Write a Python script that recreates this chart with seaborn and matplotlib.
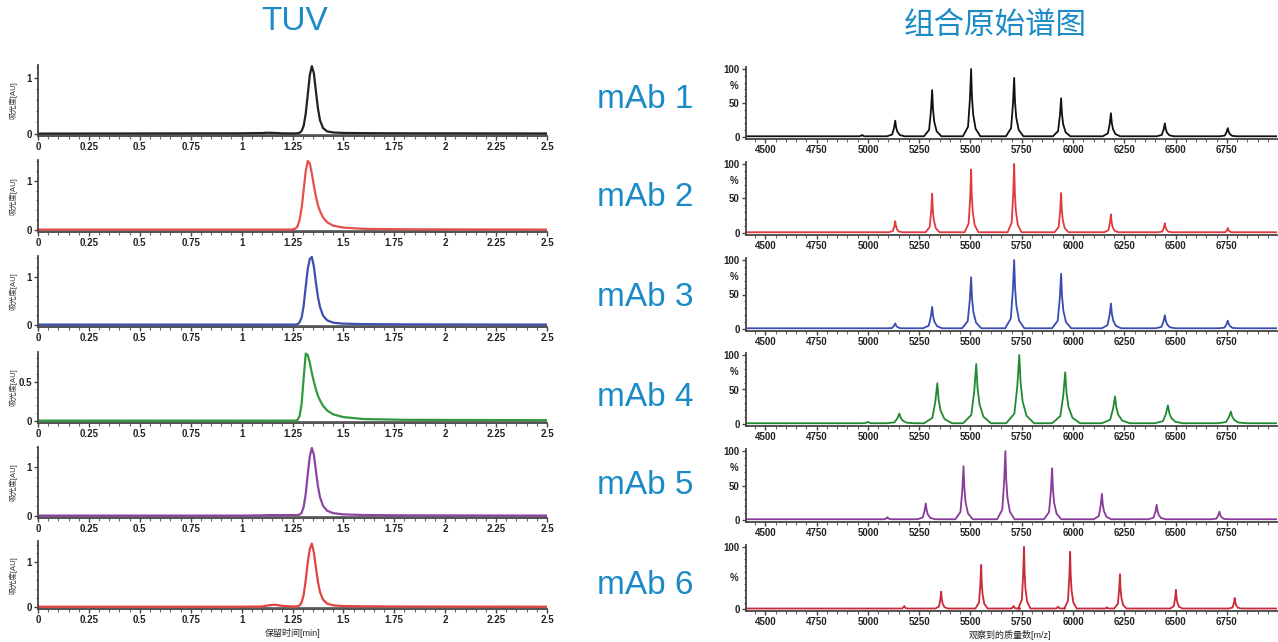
import matplotlib
matplotlib.use("Agg")
import matplotlib.pyplot as plt
import matplotlib.transforms as mtransforms
from matplotlib.ticker import MultipleLocator
import seaborn as sns
import pandas as pd

sns.set_style("ticks")
plt.rcParams['font.family'] = ['Liberation Sans', 'Noto Sans CJK SC', 'DejaVu Sans']

samples = ["mAb 1", "mAb 2", "mAb 3", "mAb 4", "mAb 5", "mAb 6"]
tuv_colors = ["#222222", "#e5504c", "#3f4fae", "#2f9a3f", "#8d46a0", "#e0443f"]
ms_colors = ["#111111", "#e03a3e", "#3a4cb0", "#1f8a30", "#8a3a9a", "#c92a3a"]

# TUV traces: retention time [min] and absorbance [AU]
rt = [0, 1.0, 1.10, 1.13, 1.16, 1.20, 1.245, 1.265, 1.275, 1.285, 1.295, 1.305,
      1.315, 1.325, 1.335, 1.345, 1.355, 1.365, 1.375, 1.385, 1.40, 1.42, 1.45,
      1.50, 1.60, 1.80, 2.5]
tuv_mab1 = [0, 0.005, 0.01, 0.015, 0.012, 0.005, 0.003, 0.004, 0.006, 0.015, 0.05, 0.14,
            0.36, 0.70, 1.05, 1.21, 1.08, 0.76, 0.45, 0.24, 0.10, 0.04, 0.02,
            0.012, 0.008, 0.005, 0.002]
tuv_mab2 = [0, 0, 0, 0, 0, 0, 0, 0.02, 0.07, 0.2, 0.45, 0.82,
            1.2, 1.41, 1.36, 1.15, 0.9, 0.68, 0.5, 0.38, 0.25, 0.15, 0.08,
            0.04, 0.015, 0.005, 0]
tuv_mab3 = [0, 0, 0, 0, 0, 0, 0, 0, 0.01, 0.05, 0.15, 0.4,
            0.8, 1.17, 1.38, 1.42, 1.22, 0.88, 0.58, 0.37, 0.19, 0.09, 0.04,
            0.02, 0.01, 0.005, 0]
tuv_mab4 = [0, 0, 0, 0, 0, 0, 0, 0, 0.01, 0.06, 0.22, 0.55,
            0.86, 0.84, 0.74, 0.61, 0.5, 0.4, 0.32, 0.26, 0.19, 0.13, 0.08,
            0.045, 0.02, 0.01, 0.005]
tuv_mab5 = [0, 0, 0.005, 0.01, 0.01, 0.01, 0.01, 0.01, 0.012, 0.02, 0.06, 0.18,
            0.45, 0.85, 1.22, 1.39, 1.25, 0.92, 0.6, 0.38, 0.2, 0.1, 0.05,
            0.025, 0.012, 0.005, 0]
tuv_mab6 = [0, 0, 0.005, 0.03, 0.045, 0.02, 0.005, 0.005, 0.01, 0.03, 0.1, 0.27,
            0.6, 1.0, 1.3, 1.42, 1.22, 0.88, 0.56, 0.33, 0.16, 0.07, 0.03,
            0.015, 0.008, 0.004, 0]
tuv_traces = [tuv_mab1, tuv_mab2, tuv_mab3, tuv_mab4, tuv_mab5, tuv_mab6]
tuv_ylim_top = [1.23, 1.43, 1.44, 0.88, 1.41, 1.48]
tuv_yticks = [[0, 1], [0, 1], [0, 1], [0, 0.5], [0, 1], [0, 1]]

# Combined raw spectra: charge-state peak apexes (m/z) and relative intensity (%)
ms_mz = [
    [4972, 5133, 5313, 5503, 5713, 5942, 6185, 6448, 6755],
    [5133, 5313, 5503, 5713, 5942, 6185, 6448, 6755],
    [5133, 5313, 5503, 5713, 5942, 6185, 6448, 6755],
    [5000, 5153, 5338, 5528, 5738, 5962, 6205, 6463, 6770],
    [5095, 5282, 5466, 5670, 5898, 6141, 6408, 6714],
    [5177, 5357, 5552, 5710, 5761, 5927, 5986, 6166, 6229, 6502, 6789],
]
ms_int = [
    [3, 24, 69, 100, 87, 57, 35, 20, 13],
    [17, 57, 92, 100, 58, 27, 14, 7],
    [8, 32, 75, 100, 80, 37, 20, 12],
    [3, 15, 59, 87, 100, 75, 40, 27, 18],
    [4, 24, 78, 100, 75, 38, 22, 12],
    [5, 28, 71, 5, 100, 4, 92, 3, 56, 31, 18],
]
ms_peak_width = [1.0, 0.8, 1.1, 1.6, 1.0, 0.7]
ms_pct_at = [75, 75, 75, 75, 75, 50]
ms_yticks = [[0, 50, 100]] * 5 + [[0, 100]]

mz_ticks = [4500, 4750, 5000, 5250, 5500, 5750, 6000, 6250, 6500, 6750]
rt_ticks = [0, 0.25, 0.5, 0.75, 1, 1.25, 1.5, 1.75, 2, 2.25, 2.5]
rt_ticklabels = ["0", "0.25", "0.5", "0.75", "1", "1.25", "1.5", "1.75", "2", "2.25", "2.5"]

# spike profile around each apex (offsets in m/z, fraction of apex height)
shape_dx = [-40, -15, -6, 0, 4, 10, 22, 45]
shape_rel = [0, 0.15, 0.55, 1, 0.6, 0.33, 0.12, 0]


def spectrum_frame(mz, inten, w):
    xs, ys = [4405], [1.0]
    for c, h in zip(mz, inten):
        for dx, r in zip(shape_dx, shape_rel):
            xs.append(c + dx * w)
            ys.append(max(1.0, h * r))
    xs.append(6995)
    ys.append(1.0)
    return pd.DataFrame({"mz": xs, "pct": ys})


def style_axis(ax):
    for s in ["top", "right"]:
        ax.spines[s].set_visible(False)
    for s in ["left", "bottom"]:
        ax.spines[s].set_color("#444444")
        ax.spines[s].set_linewidth(1.3)
    ax.tick_params(which="major", length=3, width=1, color="#444444",
                   labelsize=7, pad=1.5, labelcolor="#222222")
    ax.tick_params(which="minor", length=1.8, width=0.8, color="#666666")
    ax.set_xlabel("")
    ax.set_ylabel("")
    for lab in ax.get_xticklabels() + ax.get_yticklabels():
        lab.set_fontweight("bold")


W, H = 1278, 642
fig = plt.figure(figsize=(W / 100, H / 100), dpi=100)


def px_axes(x0, x1, y_top, y_bot):
    return fig.add_axes([x0 / W, 1 - y_bot / H, (x1 - x0) / W, (y_bot - y_top) / H])


tuv_rows = [(65, 136), (160, 232), (256, 327), (352, 423), (447, 518), (541, 609)]
ms_rows = [(67, 139), (162, 235), (258, 331), (353, 426), (449, 522), (545, 611)]
label_y = [100, 197, 298, 398, 485, 585]

for i in range(6):
    # left: TUV chromatogram
    ax = px_axes(38, 547, *tuv_rows[i])
    sns.lineplot(x=rt, y=tuv_traces[i], ax=ax, color=tuv_colors[i], lw=1.6,
                 estimator=None, sort=False)
    ax.axhline(0, color="#555555", lw=0.6, zorder=0)
    top = tuv_ylim_top[i]
    ax.set_xlim(0, 2.5)
    ax.set_ylim(-0.035 * top, top)
    ax.set_xticks(rt_ticks)
    ax.set_xticklabels(rt_ticklabels)
    ax.xaxis.set_minor_locator(MultipleLocator(0.05))
    ax.set_yticks(tuv_yticks[i])
    ax.set_yticklabels([("%g" % v) for v in tuv_yticks[i]])
    ax.yaxis.set_minor_locator(MultipleLocator(0.1 if i == 3 else 0.2))
    style_axis(ax)
    ax.set_ylabel("吸光度[AU]", fontsize=5.5, color="#333333")
    ax.yaxis.set_label_coords(-0.04, 0.5)

    # right: combined raw spectrum
    ax2 = px_axes(746, 1277, *ms_rows[i])
    df = spectrum_frame(ms_mz[i], ms_int[i], ms_peak_width[i])
    sns.lineplot(data=df, x="mz", y="pct", ax=ax2, color=ms_colors[i], lw=1.3,
                 estimator=None, sort=False)
    ax2.set_xlim(4405, 6995)
    ax2.set_ylim(-3, 103)
    ax2.set_xticks(mz_ticks)
    ax2.xaxis.set_minor_locator(MultipleLocator(50))
    ax2.set_yticks(ms_yticks[i])
    ax2.yaxis.set_minor_locator(MultipleLocator(10))
    style_axis(ax2)
    trans = mtransforms.blended_transform_factory(ax2.transAxes, ax2.transData)
    ax2.text(-0.022, ms_pct_at[i], "%", transform=trans, ha="center", va="center",
             fontsize=7, fontweight="bold", color="#222222")

    # sample label in the middle
    fig.text(645 / W, 1 - label_y[i] / H, samples[i], ha="center", va="center",
             fontsize=24, color="#1a8bc6")

fig.text(295 / W, 1 - 22 / H, "TUV", ha="center", va="center", fontsize=24, color="#1a8bc6")
fig.text(995 / W, 1 - 26 / H, "组合原始谱图", ha="center", va="center", fontsize=22,
         color="#1a8bc6")
fig.text(293 / W, 1 - 633 / H, "保留时间[min]", ha="center", va="center", fontsize=6.5,
         color="#222222")
fig.text(1010 / W, 1 - 635 / H, "观察到的质量数[m/z]", ha="center", va="center",
         fontsize=6.5, color="#222222")

fig.savefig("out.png", dpi=100, facecolor="white")
plt.close(fig)
